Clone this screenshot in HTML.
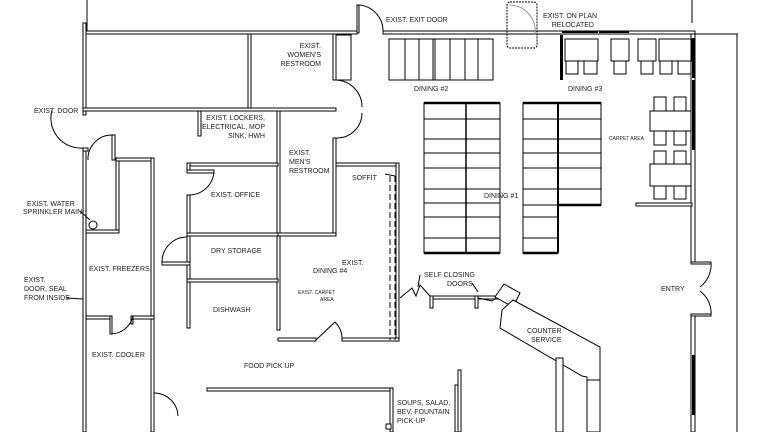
<!DOCTYPE html>
<html><head><meta charset="utf-8"><style>
html,body{margin:0;padding:0;background:#fff;width:768px;height:432px;overflow:hidden}
svg{display:block}
text{font-family:"Liberation Sans",sans-serif;font-size:7px;fill:#222}
</style></head><body>
<svg width="768" height="432" viewBox="0 0 768 432" xmlns="http://www.w3.org/2000/svg">
<g fill="#fff" stroke="#000" stroke-width="1">
<line x1="87" y1="0" x2="87" y2="31"/>
<rect x="83" y="31" width="274" height="3"/>
<rect x="383" y="31" width="312" height="3"/>
<rect x="83" y="23" width="3" height="92"/>
<rect x="83" y="148" width="3" height="284"/>
<rect x="248" y="34" width="3" height="74"/>
<rect x="333" y="34" width="3" height="46"/>
<rect x="83" y="108" width="253" height="3"/>
<rect x="336" y="35" width="15" height="45"/>
<rect x="198" y="111" width="3" height="25"/>
<rect x="333" y="138" width="3" height="97"/>
<rect x="277" y="111" width="3" height="219"/>
<rect x="278" y="233" width="58" height="3"/>
<rect x="336" y="163" width="63" height="3"/>
<rect x="396" y="163" width="3" height="177"/>
<rect x="278" y="338" width="38" height="3"/>
<rect x="342" y="338" width="57" height="3"/>
<rect x="187" y="163" width="91" height="3"/>
<rect x="187" y="163" width="3" height="7"/>
<rect x="187" y="170" width="27" height="3"/>
<rect x="187" y="195" width="3" height="90"/>
<rect x="162" y="262" width="28" height="3"/>
<rect x="187" y="233" width="91" height="3"/>
<rect x="187" y="279" width="91" height="3"/>
<rect x="187" y="282" width="3" height="46"/>
<rect x="112" y="135" width="3" height="25"/>
<rect x="83" y="148" width="5" height="3"/>
<rect x="116" y="158" width="38" height="3"/>
<rect x="116" y="161" width="3" height="72"/>
<rect x="151" y="158" width="3" height="274"/>
<rect x="86" y="230" width="33" height="3"/>
<rect x="86" y="316" width="24" height="3"/>
<rect x="133" y="316" width="21" height="3"/>
<rect x="110" y="316" width="2" height="18"/>
<rect x="131" y="316" width="2" height="8"/>
<rect x="207" y="388" width="186" height="3"/>
<rect x="390" y="388" width="3" height="44"/>
<rect x="386" y="424" width="5" height="5"/>
<rect x="430" y="296" width="68" height="3"/>
<rect x="430" y="296" width="3" height="12"/>
<rect x="475" y="296" width="3" height="12"/>
<rect x="357" y="5" width="2" height="28"/>
<rect x="691" y="34" width="4" height="228"/>
<rect x="691" y="316" width="4" height="116"/>
<rect x="691" y="262" width="20" height="2"/>
<rect x="691" y="314" width="20" height="2"/>
<rect x="636" y="203" width="56" height="3"/>
<polygon points="495,297 504,284 520,293 513,307"/>
<polygon points="513,300 600,347 600,432 587,432 587,377 582,376 500,328 502,310"/>
<line x1="587" y1="380" x2="600" y2="380"/>
<rect x="556" y="358" width="7" height="74"/>
<rect x="458" y="370" width="3" height="62"/>
<rect x="455" y="385" width="3" height="47"/>
</g>
<g fill="#000">
<rect x="560" y="35" width="3" height="45"/>
<rect x="692" y="38" width="3" height="40"/>
<rect x="692" y="80" width="3" height="70"/>
<rect x="692" y="355" width="3" height="60"/>
<rect x="562" y="31" width="36" height="2"/>
<rect x="599" y="31" width="30" height="2"/>
</g>
<g stroke="#000" fill="none" stroke-width="1">
<line x1="695" y1="34" x2="738" y2="34"/>
<line x1="737" y1="34" x2="737" y2="432"/>
<line x1="692" y1="0" x2="692" y2="23"/>
<path d="M359 5 A26 26 0 0 1 383 31"/>
<path d="M336 80 A27 27 0 0 1 362 107"/>
<path d="M336 138 A25 25 0 0 0 362 113"/>
<path d="M52 110 A30 30 0 0 0 83 148"/>
<path d="M88 160 A24 24 0 0 1 112 135"/>
<path d="M190 195 A25 25 0 0 0 214 170"/>
<path d="M162 262 A25 25 0 0 1 187 237"/>
<path d="M110 334 A23 23 0 0 0 133 316"/>
<path d="M154 393 A24 24 0 0 1 178 416"/>
<path d="M316 340 L335 322 A24 24 0 0 1 342 340"/>
<path d="M711 262 A28 28 0 0 1 700 287"/>
<path d="M711 316 A28 28 0 0 0 700 291"/>
<path d="M400 298 L412 288 L416 296 L420 285 L430 296"/>
<path d="M478 298 L492 301 L496 298"/>
<rect x="507" y="2" width="30" height="46" rx="3" stroke-dasharray="2 1"/>
<path d="M510 5 A26 26 0 0 1 535 34" stroke="#999"/>
<line x1="390" y1="176" x2="390" y2="340" stroke-dasharray="6 3"/>
<line x1="395" y1="176" x2="395" y2="340" stroke-dasharray="6 3"/>
<line x1="385" y1="174" x2="395" y2="176"/>
<circle cx="93" cy="225" r="4"/>
<line x1="80" y1="211" x2="90" y2="220"/>
<line x1="67" y1="298" x2="83" y2="299"/>
<line x1="420" y1="275" x2="418" y2="287"/>
<line x1="472" y1="283" x2="478" y2="292"/>
<rect x="389" y="39" width="104" height="41"/>
<line x1="405" y1="39" x2="405" y2="80"/><line x1="419" y1="39" x2="419" y2="80"/>
<line x1="433" y1="39" x2="433" y2="80"/><line x1="435" y1="39" x2="435" y2="80"/>
<line x1="450" y1="39" x2="450" y2="80"/><line x1="465" y1="39" x2="465" y2="80"/>
<line x1="478" y1="39" x2="478" y2="80"/>
<rect x="424" y="103" width="76" height="150"/>
<rect x="523" y="103" width="78" height="102"/>
<polyline points="523,205 523,253 558,253 558,205"/>
<line x1="466" y1="103" x2="466" y2="253" stroke-width="1.5"/>
<line x1="558" y1="103" x2="558" y2="253" stroke-width="2"/>
<g>
<line x1="424" y1="119" x2="500" y2="119"/><line x1="424" y1="139" x2="500" y2="139"/>
<line x1="424" y1="153" x2="500" y2="153"/><line x1="424" y1="168" x2="500" y2="168"/>
<line x1="424" y1="189" x2="500" y2="189"/><line x1="424" y1="203" x2="500" y2="203"/>
<line x1="424" y1="217" x2="500" y2="217"/><line x1="424" y1="238" x2="500" y2="238"/>
<line x1="523" y1="119" x2="601" y2="119"/><line x1="523" y1="139" x2="601" y2="139"/>
<line x1="523" y1="153" x2="601" y2="153"/><line x1="523" y1="168" x2="601" y2="168"/>
<line x1="523" y1="189" x2="601" y2="189"/><line x1="523" y1="217" x2="558" y2="217"/>
<line x1="523" y1="238" x2="558" y2="238"/>
</g>
<line x1="424" y1="103" x2="500" y2="103" stroke-width="2.5"/>
<line x1="424" y1="253" x2="500" y2="253" stroke-width="2.5"/>
<line x1="523" y1="103" x2="601" y2="103" stroke-width="2.5"/>
<line x1="523" y1="253" x2="558" y2="253" stroke-width="2.5"/>
<line x1="558" y1="205" x2="601" y2="205" stroke-width="2.5"/>
<rect x="565" y="39" width="33" height="22"/>
<rect x="566" y="61" width="12" height="13"/><rect x="584" y="61" width="13" height="13"/>
<rect x="611" y="39" width="18" height="22"/><rect x="614" y="61" width="12" height="13"/>
<rect x="638" y="39" width="18" height="22"/><rect x="641" y="61" width="12" height="13"/>
<rect x="659" y="39" width="33" height="22"/>
<rect x="660" y="61" width="12" height="13"/><rect x="678" y="61" width="13" height="13"/>
<rect x="650" y="111" width="41" height="20"/>
<rect x="654" y="97" width="12" height="14"/><rect x="674" y="97" width="12" height="14"/>
<rect x="654" y="131" width="12" height="14"/><rect x="674" y="131" width="12" height="14"/>
<rect x="650" y="164" width="41" height="22"/>
<rect x="654" y="151" width="12" height="13"/><rect x="674" y="151" width="12" height="13"/>
<rect x="654" y="186" width="12" height="13"/><rect x="674" y="186" width="12" height="13"/>
</g>
<text x="321" y="48" text-anchor="end">EXIST.</text>
<text x="321" y="57" text-anchor="end">WOMEN'S</text>
<text x="321" y="66" text-anchor="end">RESTROOM</text>
<text x="386" y="22">EXIST. EXIT DOOR</text>
<text x="543" y="18">EXIST. ON PLAN</text>
<text x="594" y="27" text-anchor="end">RELOCATED</text>
<text x="34" y="113">EXIST. DOOR</text>
<text x="265" y="120" text-anchor="end">EXIST. LOCKERS,</text>
<text x="265" y="129" text-anchor="end">ELECTRICAL, MOP</text>
<text x="265" y="138" text-anchor="end">SINK, HWH</text>
<text x="289" y="155">EXIST.</text>
<text x="289" y="164">MEN'S</text>
<text x="289" y="173">RESTROOM</text>
<text x="352" y="180">SOFFIT</text>
<text x="211" y="197">EXIST. OFFICE</text>
<text x="27" y="206">EXIST. WATER</text>
<text x="23" y="214">SPRINKLER MAIN</text>
<text x="211" y="253">DRY STORAGE</text>
<text x="342" y="265">EXIST.</text>
<text x="313" y="273">DINING  #4</text>
<text x="298" y="294" style="font-size:5px">EXIST. CARPET</text>
<text x="320" y="301" style="font-size:5px">AREA</text>
<text x="89" y="271">EXIST. FREEZERS</text>
<text x="24" y="282">EXIST.</text>
<text x="24" y="291">DOOR, SEAL</text>
<text x="24" y="300">FROM INSIDE</text>
<text x="213" y="312">DISHWASH</text>
<text x="92" y="357">EXIST. COOLER</text>
<text x="244" y="368">FOOD PICK UP</text>
<text x="397" y="405">SOUPS, SALAD,</text>
<text x="397" y="414">BEV. FOUNTAIN</text>
<text x="397" y="423">PICK-UP</text>
<text x="414" y="91">DINING  #2</text>
<text x="568" y="91">DINING #3</text>
<text x="609" y="140" style="font-size:5px">CARPET AREA</text>
<text x="484" y="198">DINING #1</text>
<text x="424" y="277">SELF CLOSING</text>
<text x="447" y="286">DOORS</text>
<text x="661" y="291">ENTRY</text>
<text x="527" y="333">COUNTER</text>
<text x="531" y="342">SERVICE</text>
</svg>
</body></html>
